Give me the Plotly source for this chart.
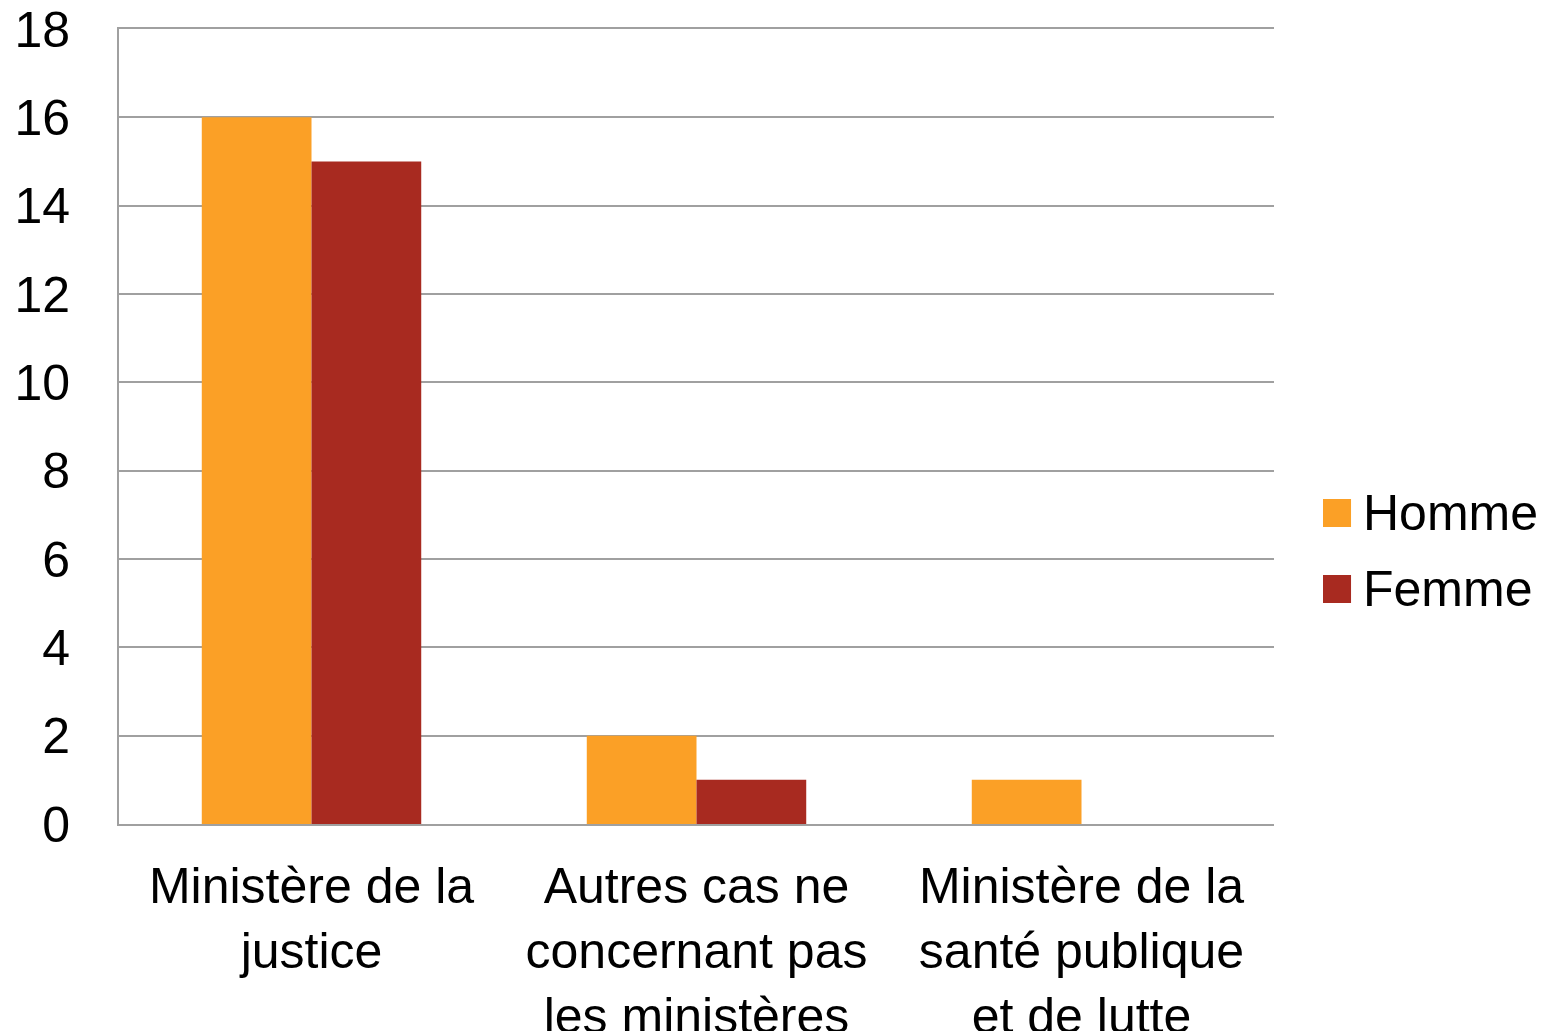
import plotly.graph_objects as go

categories = [
    "Ministère de la<br>justice",
    "Autres cas ne<br>concernant pas<br>les ministères",
    "Ministère de la<br>santé publique<br>et de lutte",
]
series_names = ["Homme", "Femme"]
homme = [16, 2, 1]
femme = [15, 1, 0]
colors = ["#FBA026", "#A82A20"]
y_ticks = [0, 2, 4, 6, 8, 10, 12, 14, 16, 18]

FONT = "Liberation Sans, Arial, sans-serif"
FS = 50

fig = go.Figure()
for name, vals, col in zip(series_names, [homme, femme], colors):
    fig.add_trace(go.Bar(x=categories, y=vals, name=name, marker_color=col,
                         marker_line_width=0, showlegend=False))

# Legend drawn manually to get large square swatches
leg_y = [0.3912, 0.2956]
for name, col, yc in zip(series_names, colors, leg_y):
    fig.add_shape(type="rect", xref="paper", yref="paper",
                  x0=1.0424, x1=1.0667, y0=yc - 0.0176, y1=yc + 0.0176,
                  fillcolor=col, line_width=0)
    fig.add_annotation(xref="paper", yref="paper", x=1.0752, y=yc,
                       text=name, showarrow=False, xanchor="left", yanchor="middle",
                       font=dict(family=FONT, size=FS, color="#000000"))

fig.update_layout(
    width=1549, height=1023,
    margin=dict(l=111, r=283, t=21, b=207, autoexpand=False),
    paper_bgcolor="white", plot_bgcolor="white",
    barmode="group", bargap=0.43, bargroupgap=0,
    font=dict(family=FONT, size=FS, color="#000000"),
)
fig.update_yaxes(range=[0, 18], tickvals=y_ticks, showgrid=True, gridcolor="#A0A0A0",
                 gridwidth=2, showline=True, linecolor="#A0A0A0", linewidth=2,
                 ticks="", ticklabelstandoff=37, zeroline=False,
                 ticklabeloverflow="allow",
                 tickfont=dict(family=FONT, size=FS, color="#000000"))
fig.update_xaxes(showline=True, mirror=True, linecolor="#A0A0A0", linewidth=2, ticks="",
                 ticklabelstandoff=17, showgrid=False, ticklabeloverflow="allow",
                 tickfont=dict(family=FONT, size=FS, color="#000000"))

fig.write_html("out.html")
